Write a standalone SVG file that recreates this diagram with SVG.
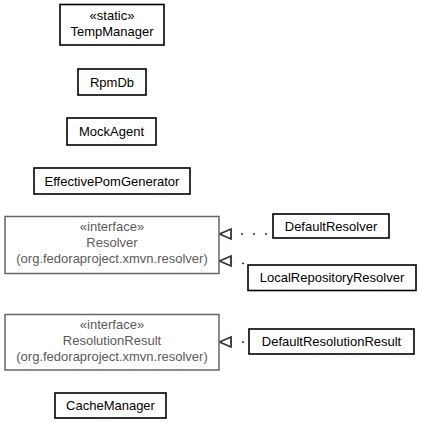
<svg xmlns="http://www.w3.org/2000/svg" width="421" height="423" viewBox="0 0 421 423">
<style>
  .box { fill: #ffffff; stroke: #000000; stroke-width: 1.6; }
  .ibox { fill: #ffffff; stroke: #666666; stroke-width: 1.5; }
  .t { font-family: "Liberation Sans", Arial, sans-serif; font-size: 13px; font-weight: normal; fill: #000000; text-anchor: middle; }
  .it { font-family: "Liberation Sans", Arial, sans-serif; font-size: 13px; font-weight: normal; fill: #5a5a5a; text-anchor: middle; }
  .dep { fill: none; stroke: #333333; stroke-width: 1.6; stroke-dasharray: 2 10; }
  .head { fill: #ffffff; stroke: #333333; stroke-width: 1.8; }
</style>
<rect width="421" height="423" fill="#ffffff"/>
<g id="connectors">
  <line class="dep" x1="267" y1="234" x2="231" y2="234"/>
  <path class="head" d="M219.5,234 L231,229 L231,239 Z"/>
  <line class="dep" x1="244" y1="263.5" x2="231" y2="262"/>
  <path class="head" d="M219.5,261 L231,256 L231,266 Z"/>
  <line class="dep" x1="244" y1="342" x2="231" y2="342"/>
  <path class="head" d="M219.5,342 L231,337 L231,347 Z"/>
</g>
<g id="TempManager">
  <rect class="box" x="60" y="4.5" width="104" height="40.5"/>
  <text class="t" x="112" y="20">«static»</text>
  <text class="t" x="112" y="36">TempManager</text>
</g>
<g id="RpmDb">
  <rect class="box" x="78" y="69" width="68" height="26"/>
  <text class="t" x="112" y="86.5">RpmDb</text>
</g>
<g id="MockAgent">
  <rect class="box" x="67" y="118" width="89" height="27"/>
  <text class="t" x="111.5" y="136">MockAgent</text>
</g>
<g id="EffectivePomGenerator">
  <rect class="box" x="34" y="168" width="156" height="26"/>
  <text class="t" x="112" y="185.5">EffectivePomGenerator</text>
</g>
<g id="Resolver">
  <rect class="ibox" x="5" y="216.5" width="214" height="57"/>
  <text class="it" x="112" y="230.5">«interface»</text>
  <text class="it" x="112" y="246.5">Resolver</text>
  <text class="it" x="112" y="262.5">(org.fedoraproject.xmvn.resolver)</text>
</g>
<g id="DefaultResolver">
  <rect class="box" x="273" y="214" width="116" height="24"/>
  <text class="t" x="331" y="230.5">DefaultResolver</text>
</g>
<g id="LocalRepositoryResolver">
  <rect class="box" x="248" y="265" width="168" height="25.5"/>
  <text class="t" x="332" y="282">LocalRepositoryResolver</text>
</g>
<g id="ResolutionResult">
  <rect class="ibox" x="5" y="314.5" width="214" height="55.5"/>
  <text class="it" x="112" y="328.5">«interface»</text>
  <text class="it" x="112" y="344.5">ResolutionResult</text>
  <text class="it" x="112" y="360.5">(org.fedoraproject.xmvn.resolver)</text>
</g>
<g id="DefaultResolutionResult">
  <rect class="box" x="249" y="329" width="165" height="25"/>
  <text class="t" x="331.5" y="346">DefaultResolutionResult</text>
</g>
<g id="CacheManager">
  <rect class="box" x="55" y="393" width="111" height="25"/>
  <text class="t" x="110.5" y="410">CacheManager</text>
</g>
</svg>
